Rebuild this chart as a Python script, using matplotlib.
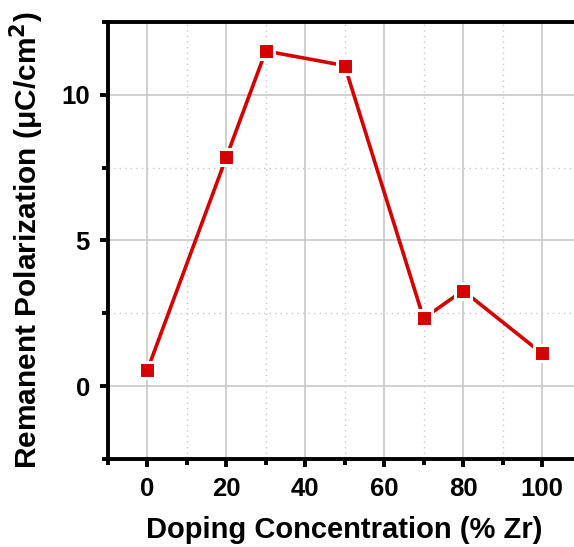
import numpy as np
import matplotlib.pyplot as plt
from matplotlib.ticker import MultipleLocator

doping = [0, 20, 30, 50, 70, 80, 100]
pr = [0.55, 7.85, 11.5, 11.0, 2.32, 3.28, 1.12]

plt.rcParams['font.family'] = ['Liberation Sans', 'DejaVu Sans']
plt.rcParams['font.weight'] = 'bold'
plt.rcParams['mathtext.default'] = 'bf'

fig = plt.figure(figsize=(5.74, 5.47), dpi=100)
ax = fig.add_axes([0.188, 0.161, 0.825, 0.799])

ax.plot(doping, pr, color='#d60000', lw=2.6, marker='s', ms=11.5,
        mfc='#d60000', mec='white', mew=2.2, zorder=3)

ax.set_xlim(-10, 110)
ax.set_ylim(-2.5, 12.5)
ax.xaxis.set_major_locator(MultipleLocator(20))
ax.xaxis.set_minor_locator(MultipleLocator(10))
ax.yaxis.set_major_locator(MultipleLocator(5))
ax.yaxis.set_minor_locator(MultipleLocator(2.5))

ax.grid(which='major', color='#c8c8c8', lw=1.2, ls='-')
ax.grid(which='minor', color='#c8c8c8', lw=1.0, ls=(0, (1, 3)))
ax.set_axisbelow(True)

for s in ['left', 'bottom', 'top']:
    ax.spines[s].set_linewidth(2.8)
ax.spines['right'].set_visible(False)

ax.tick_params(which='major', direction='out', length=6, width=2.8,
               labelsize=18.5, top=False, right=False, pad=7)
ax.tick_params(which='minor', direction='out', length=4, width=2.8,
               top=False, right=False)
for lab in ax.get_xticklabels() + ax.get_yticklabels():
    lab.set_fontweight('bold')

ax.set_xlabel('Doping Concentration (% Zr)', fontsize=21, fontweight='bold', labelpad=11)
ax.set_ylabel('Remanent Polarization (μC/cm$^{2}$)', fontsize=21.5, fontweight='bold', labelpad=11)

fig.savefig('out.png', dpi=100)
